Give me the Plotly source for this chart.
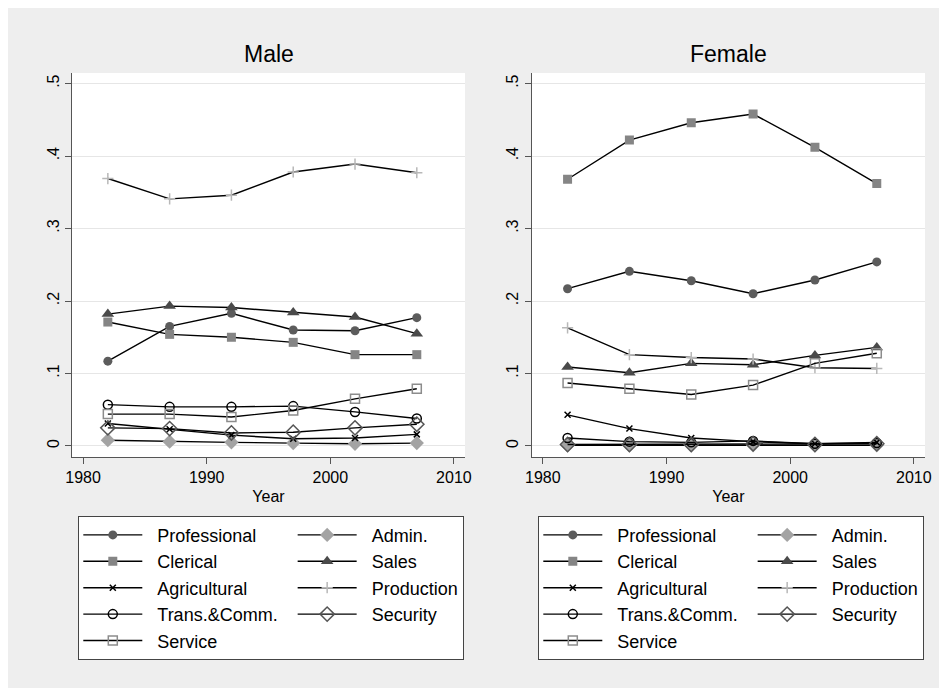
import plotly.graph_objects as go

years = [1982, 1987, 1992, 1997, 2002, 2007]

# Male shares
m_prof = [0.117, 0.165, 0.183, 0.160, 0.159, 0.177]
m_admin = [0.008, 0.006, 0.005, 0.004, 0.003, 0.004]
m_cler = [0.171, 0.154, 0.150, 0.143, 0.126, 0.126]
m_sales = [0.182, 0.193, 0.191, 0.184, 0.178, 0.155]
m_agri = [0.031, 0.023, 0.015, 0.010, 0.011, 0.016]
m_prod = [0.369, 0.341, 0.346, 0.378, 0.389, 0.377]
m_trans = [0.057, 0.054, 0.054, 0.055, 0.047, 0.038]
m_sec = [0.025, 0.024, 0.018, 0.019, 0.025, 0.030]
m_serv = [0.044, 0.044, 0.040, 0.049, 0.065, 0.079]

# Female shares
f_prof = [0.217, 0.241, 0.228, 0.210, 0.229, 0.254]
f_admin = [0.001, 0.001, 0.001, 0.001, 0.001, 0.001]
f_cler = [0.368, 0.422, 0.446, 0.458, 0.412, 0.362]
f_sales = [0.109, 0.101, 0.114, 0.112, 0.125, 0.136]
f_agri = [0.043, 0.024, 0.011, 0.006, 0.003, 0.005]
f_prod = [0.163, 0.126, 0.122, 0.120, 0.108, 0.107]
f_trans = [0.011, 0.006, 0.005, 0.007, 0.003, 0.004]
f_sec = [0.002, 0.002, 0.002, 0.003, 0.002, 0.003]
f_serv = [0.087, 0.079, 0.071, 0.084, 0.114, 0.128]

panel_titles = ["Male", "Female"]
x_tickvals = [1980, 1990, 2000, 2010]
x_ticktext = ["1980", "1990", "2000", "2010"]
y_tickvals = [0, 0.1, 0.2, 0.3, 0.4, 0.5]
y_ticktext = ["0", ".1", ".2", ".3", ".4", ".5"]

NB = "\u00a0"
# name, legend column, marker symbol, colour, size
styles = [
    ("Professional", 1, "circle", "#5c5c5c", 9),
    ("Admin.", 2, "diamond", "#a3a3a3", 11),
    ("Clerical", 1, "square", "#858585", 9),
    ("Sales", 2, "triangle-up", "#4a4a4a", 11),
    ("Agricultural", 1, "x-thin", "#000000", 6),
    ("Production", 2, "cross-thin", "#b8b8b8", 8),
    ("Trans.&Comm.", 1, "circle-open", "#000000", 9),
    ("Security", 2, "diamond-open", "#555555", 11),
    ("Service", 1, "square-open", "#8c8c8c", 9),
]
male_vals = [m_prof, m_admin, m_cler, m_sales, m_agri, m_prod, m_trans, m_sec, m_serv]
female_vals = [f_prof, f_admin, f_cler, f_sales, f_agri, f_prod, f_trans, f_sec, f_serv]

FONT = "Liberation Sans, Arial, Helvetica, sans-serif"

fig = go.Figure()
for vals, xa, ya, leg, tag in [
    (male_vals, "x", "y", "legend", "m"),
    (female_vals, "x2", "y2", "legend2", "f"),
]:
    for (name, grp, sym, col, size), v in zip(styles, vals):
        label = NB + NB + name
        if name == "Trans.&Comm.":
            label = label + NB + NB
        outline = "open" in sym or "thin" in sym
        fig.add_trace(go.Scatter(
            x=years, y=v, xaxis=xa, yaxis=ya,
            mode="lines+markers", name=label,
            legend=leg, legendgroup=f"{tag}{grp}",
            line=dict(color="black", width=1.4),
            marker=dict(symbol=sym, color=col, size=size,
                        line=dict(color=col, width=1.5 if outline else 0)),
        ))

axis_common = dict(
    showline=True, linecolor="#555555", linewidth=1.2,
    ticks="outside", ticklen=6, tickcolor="#555555", tickwidth=1.2,
    tickfont=dict(family=FONT, size=16, color="black"),
    zeroline=False,
)
W, H = 931, 680
L, R, T, B = 64, 14, 64.7, 231.3
pw = W - L - R
m_dom = [0, 393 / pw]
f_dom = [(523.7 - L) / pw, 1]
yr = [-0.0152, 0.5146]
xr = [1979.1, 2010.9]

fig.update_layout(
    width=W, height=H,
    margin=dict(l=L, r=R, t=T, b=B, autoexpand=False),
    paper_bgcolor="#EEEEEE", plot_bgcolor="white",
    font=dict(family=FONT, color="black"),
    showlegend=True,
    xaxis=dict(domain=m_dom, range=xr, tickvals=x_tickvals, ticktext=x_ticktext, anchor="y",
               showgrid=False, title=dict(text="Year", font=dict(size=16), standoff=5), **axis_common),
    xaxis2=dict(domain=f_dom, range=xr, tickvals=x_tickvals, ticktext=x_ticktext, anchor="y2",
                showgrid=False, title=dict(text="Year", font=dict(size=16), standoff=5), **axis_common),
    yaxis=dict(domain=[0, 1], range=yr, tickvals=y_tickvals, ticktext=y_ticktext, anchor="x",
               tickangle=-90, showgrid=True, gridcolor="#E6E6E6", gridwidth=1.2, **axis_common),
    yaxis2=dict(domain=[0, 1], range=yr, tickvals=y_tickvals, ticktext=y_ticktext, anchor="x2",
                tickangle=-90, showgrid=True, gridcolor="#E6E6E6", gridwidth=1.2, **axis_common),
    legend=dict(xref="container", yref="container", x=70.3 / W, y=1 - 507.7 / H,
                xanchor="left", yanchor="top", orientation="h", traceorder="grouped",
                bgcolor="white", bordercolor="#444444", borderwidth=1, itemwidth=59,
                tracegroupgap=0, font=dict(family=FONT, size=18, color="black")),
    legend2=dict(xref="container", yref="container", x=530.3 / W, y=1 - 507.7 / H,
                 xanchor="left", yanchor="top", orientation="h", traceorder="grouped",
                 bgcolor="white", bordercolor="#444444", borderwidth=1, itemwidth=59,
                 tracegroupgap=0, font=dict(family=FONT, size=18, color="black")),
)

# panel titles
for title, dom in zip(panel_titles, [m_dom, f_dom]):
    fig.add_annotation(text=title, xref="paper", yref="paper", x=(dom[0] + dom[1]) / 2, y=1,
                       xanchor="center", yanchor="bottom", yshift=4, showarrow=False,
                       font=dict(family=FONT, size=23, color="black"))

fig.write_html("out.html")
